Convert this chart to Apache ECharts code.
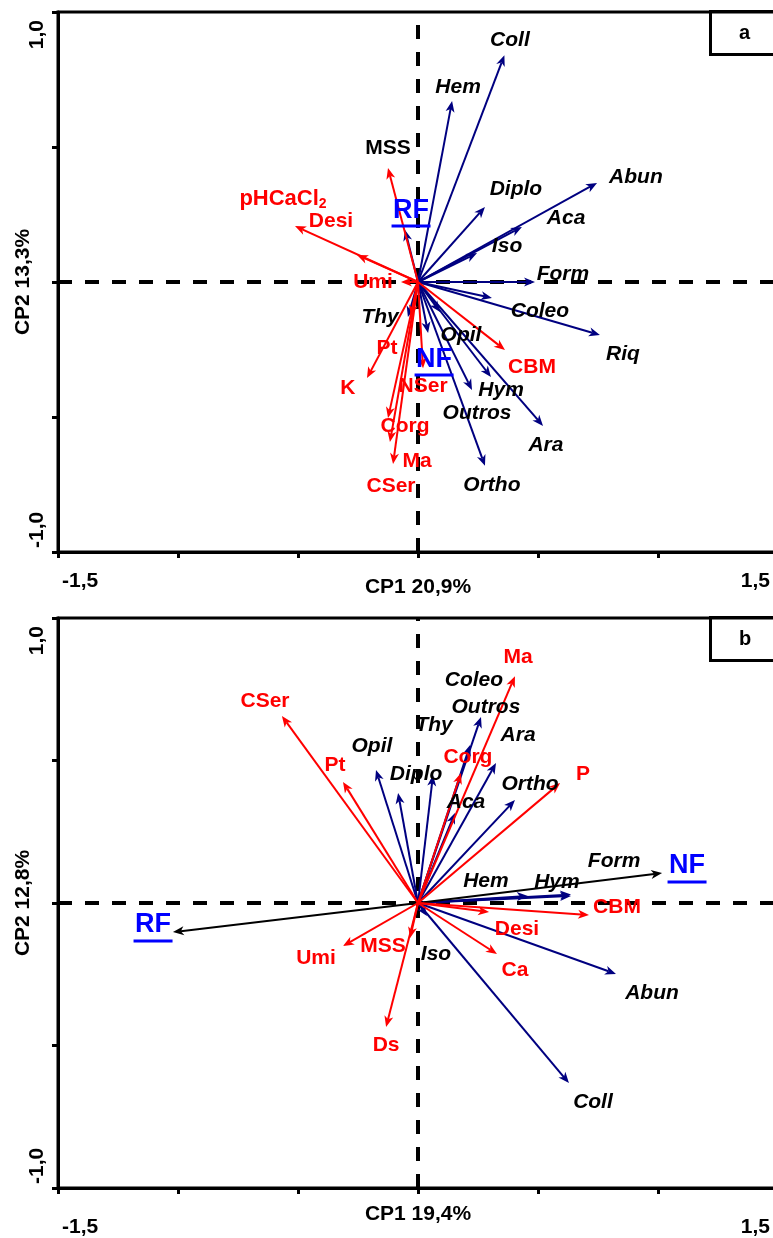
<!DOCTYPE html>
<html><head><meta charset="utf-8">
<script src="https://cdn.jsdelivr.net/npm/echarts@6/dist/echarts.min.js"></script>
<style>html,body{margin:0;padding:0;background:#fff}#c{width:773px;height:1238px}</style>
</head><body><div id="c"></div>
<script>
// ---------- Panel a ----------
const aNames = ['Coll','Hem','Diplo','Abun','Aca','Iso','Form','Coleo','Riq','Thy','Opil','Hym','Outros','Ara','Ortho','RF','NF','pHCaCl2','Desi','MSS','Umi','K','Pt','NSer','Corg','CSer','Ma','CBM'];
const aType  = ['f','f','f','f','f','f','f','f','f','f','f','f','f','f','f','t','t','s','s','s','s','s','s','s','s','s','s','s'];
const aX = [0.36,0.142,0.279,0.746,0.433,0.246,0.4875,0.308,0.758,-0.042,0.042,0.304,0.225,0.521,0.279,-0.054,0.092,-0.5125,-0.254,-0.125,-0.071,-0.2125,-0.029,0.021,-0.125,-0.117,-0.104,0.3625];
const aY = [0.84,0.67,0.278,0.367,0.204,0.107,0,-0.059,-0.196,-0.13,-0.189,-0.352,-0.4,-0.533,-0.681,0.193,-0.111,0.207,0.1,0.422,0,-0.356,-0.126,-0.319,-0.504,-0.593,-0.674,-0.252];
const aLabelX = [0.383,0.167,0.408,0.908,0.617,0.371,0.604,0.508,0.854,-0.158,0.179,0.346,0.246,0.533,0.308,-0.029,0.067,-0.5625,-0.3625,-0.125,-0.1875,-0.292,-0.129,0.021,-0.054,-0.1125,-0.004,0.475];
const aLabelY = [0.896,0.722,0.344,0.389,0.237,0.133,0.03,-0.107,-0.267,-0.13,-0.196,-0.4,-0.485,-0.604,-0.752,0.259,-0.293,0.307,0.226,0.496,0,-0.393,-0.244,-0.385,-0.533,-0.756,-0.663,-0.315];

// ---------- Panel b ----------
const bNames = ['Coleo','Outros','Thy','Ara','Opil','Diplo','Aca','Ortho','Form','Hem','Hym','Iso','Abun','Coll','RF','NF','CSer','Pt','Corg','Ma','P','CBM','Desi','Ca','Umi','MSS','Ds'];
const bType  = ['f','f','f','f','f','f','f','f','f','f','f','f','f','f','t','t','s','s','s','s','s','s','s','s','s','s','s'];
const bX = [0.2625,0.217,0.0625,0.325,-0.175,-0.083,0.154,0.404,0.6375,0.458,0.6375,0.0375,0.825,0.629,-1.021,1.017,-0.567,-0.3125,0.179,0.404,0.592,0.7125,0.296,0.329,-0.3125,-0.033,-0.133];
const bY = [0.653,0.554,0.449,0.491,0.467,0.386,0.316,0.361,0.03,0.025,0.025,-0.046,-0.249,-0.632,-0.102,0.105,0.656,0.425,0.456,0.796,0.421,-0.042,-0.032,-0.179,-0.151,-0.123,-0.435];
const bLabelX = [0.233,0.283,0.067,0.417,-0.192,-0.008,0.2,0.467,0.817,0.283,0.579,0.075,0.975,0.729,-1.104,1.121,-0.6375,-0.346,0.208,0.417,0.6875,0.829,0.4125,0.404,-0.425,-0.146,-0.133];
const bLabelY = [0.782,0.688,0.625,0.589,0.551,0.453,0.354,0.418,0.147,0.077,0.074,-0.179,-0.316,-0.698,-0.084,0.123,0.709,0.484,0.512,0.863,0.453,-0.014,-0.091,-0.235,-0.193,-0.151,-0.498];

// ---------- Axes ----------
const xTickValues = [-1.5, 1.5];
const xTickText = ['-1,5', '1,5'];
const yTickValues = [-1.0, 1.0];
const yTickText = ['-1,0', '1,0'];
const xAxisNames = ['CP1 20,9%', 'CP1 19,4%'];
const yAxisNames = ['CP2 13,3%', 'CP2 12,8%'];
const panelLetters = ['a', 'b'];

const FONT = "'Liberation Sans', Arial, sans-serif";
const NAVY = '#000080', RED = '#ff0000', BLUE = '#0000ff';

function lookup(vals, texts) {
  return function (v) {
    for (let i = 0; i < vals.length; i++) if (Math.abs(v - vals[i]) < 1e-6) return texts[i];
    return '';
  };
}

function arrowSeries(idx, xs, ys, types, tColor) {
  return {
    type: 'custom', coordinateSystem: 'cartesian2d', xAxisIndex: idx, yAxisIndex: idx,
    clip: false, silent: true, z: 5,
    data: xs.map((x, i) => [x, ys[i], i]),
    renderItem: function (params, api) {
      const p0 = api.coord([0, 0]);
      const p1 = api.coord([api.value(0), api.value(1)]);
      const t = types[api.value(2)];
      const color = t === 's' ? RED : (t === 't' ? tColor : NAVY);
      const dx = p1[0] - p0[0], dy = p1[1] - p0[1];
      const len = Math.max(Math.hypot(dx, dy), 1e-6);
      const ux = dx / len, uy = dy / len, nx = -uy, ny = ux;
      const hl = Math.min(11, len), hw = 4.5;
      const bx = p1[0] - ux * hl, by = p1[1] - uy * hl;
      const mx = p1[0] - ux * hl * 0.72, my = p1[1] - uy * hl * 0.72;
      return {
        type: 'group', children: [
          { type: 'line', shape: { x1: p0[0], y1: p0[1], x2: mx, y2: my }, style: { stroke: color, lineWidth: 2 } },
          { type: 'polygon', shape: { points: [[p1[0], p1[1]], [bx + nx * hw, by + ny * hw], [mx, my], [bx - nx * hw, by - ny * hw]] }, style: { fill: color } }
        ]
      };
    }
  };
}

function labelSeries(idx, names, lxs, lys, types, blackSoil) {
  return {
    type: 'custom', coordinateSystem: 'cartesian2d', xAxisIndex: idx, yAxisIndex: idx,
    clip: false, silent: true, z: 10,
    data: lxs.map((x, i) => [x, lys[i], i]),
    renderItem: function (params, api) {
      const p = api.coord([api.value(0), api.value(1)]);
      const i = api.value(2);
      const name = names[i], t = types[i];
      let style;
      if (t === 't') {
        style = {
          text: '{t|' + name + '}\n{u|}', align: 'center', verticalAlign: 'middle',
          rich: {
            t: { fontSize: 27, fontWeight: 'bold', fontFamily: FONT, fill: BLUE, lineHeight: 28, align: 'center' },
            u: { backgroundColor: BLUE, width: 39, height: 3, lineHeight: 4, align: 'center' }
          }
        };
      } else if (name === 'pHCaCl2') {
        style = {
          text: '{m|pHCaCl}{s|2}', align: 'center', verticalAlign: 'middle',
          rich: {
            m: { fontSize: 22, fontWeight: 'bold', fontFamily: FONT, fill: RED, lineHeight: 24 },
            s: { fontSize: 14, fontWeight: 'bold', fontFamily: FONT, fill: RED, padding: [10, 0, 0, 0] }
          }
        };
      } else {
        const black = t === 'f' || blackSoil.indexOf(name) >= 0;
        style = {
          text: name, align: 'center', verticalAlign: 'middle',
          fontSize: 21, fontWeight: 'bold', fontStyle: t === 'f' ? 'italic' : 'normal',
          fontFamily: FONT, fill: black ? '#000' : RED
        };
      }
      return { type: 'text', x: p[0], y: p[1], style: style };
    }
  };
}

function dashSeries(idx) {
  return {
    type: 'line', xAxisIndex: idx, yAxisIndex: idx, data: [], silent: true, z: 2,
    markLine: {
      silent: true, symbol: 'none', animation: false,
      label: { show: false },
      lineStyle: { type: [14, 13], width: 4, color: '#000' },
      data: [{ xAxis: 0 }, { yAxis: 0 }]
    }
  };
}

const axisLine = { show: true, onZero: false, lineStyle: { color: '#000', width: 3 } };
const axisTick = { show: true, length: 6, lineStyle: { color: '#000', width: 3 } };
const labelFont = { color: '#000', fontSize: 21, fontWeight: 'bold', fontFamily: FONT };

const grids = [
  { left: 58, top: 12, width: 720, height: 540 },
  { left: 58, top: 618, width: 720, height: 570 }
];
const xMargins = [19, 29];
const xNameGaps = [25, 16];

const option = {
  backgroundColor: '#fff',
  animation: false,
  title: panelLetters.map((l, i) => ({
    text: l, left: 710, top: i === 0 ? 11 : 617,
    padding: [11, 30, 11, 29], borderWidth: 3, borderColor: '#000',
    textStyle: { fontSize: 20, fontWeight: 'bold', fontFamily: FONT, color: '#000', lineHeight: 22 }
  })),
  grid: grids.map(g => Object.assign({ show: true, borderColor: '#000', borderWidth: 3, backgroundColor: 'transparent', containLabel: false, outerBoundsMode: 'none' }, g)),
  xAxis: [0, 1].map(i => ({
    type: 'value', gridIndex: i, min: -1.5, max: 1.5, interval: 0.5,
    axisLine: axisLine, axisTick: axisTick, splitLine: { show: false },
    axisLabel: Object.assign({ formatter: lookup(xTickValues, xTickText), margin: xMargins[i], alignMinLabel: 'left', alignMaxLabel: 'right', showMinLabel: true, showMaxLabel: true, padding: [0, 8, 0, 4] }, labelFont),
    name: xAxisNames[i], nameLocation: 'middle', nameGap: xNameGaps[i], nameMoveOverlap: false,
    nameTextStyle: Object.assign({ verticalAlign: 'top' }, labelFont)
  })),
  yAxis: [0, 1].map(i => ({
    type: 'value', gridIndex: i, min: -1, max: 1, interval: 0.5,
    axisLine: axisLine, axisTick: axisTick, splitLine: { show: false },
    axisLabel: Object.assign({ formatter: lookup(yTickValues, yTickText), rotate: 90, margin: 10, alignMinLabel: 'left', alignMaxLabel: 'right', showMinLabel: true, showMaxLabel: true, padding: [0, 8, 0, 4] }, labelFont),
    name: yAxisNames[i], nameLocation: 'middle', nameGap: 24, nameRotate: 90, nameMoveOverlap: false,
    nameTextStyle: labelFont
  })),
  series: [
    dashSeries(0), dashSeries(1),
    arrowSeries(0, aX, aY, aType, NAVY),
    arrowSeries(1, bX, bY, bType, '#000'),
    labelSeries(0, aNames, aLabelX, aLabelY, aType, ['MSS']),
    labelSeries(1, bNames, bLabelX, bLabelY, bType, [])
  ]
};

const chart = echarts.init(document.getElementById('c'), null, { renderer: 'canvas' });
chart.setOption(option);
</script>
</body></html>
